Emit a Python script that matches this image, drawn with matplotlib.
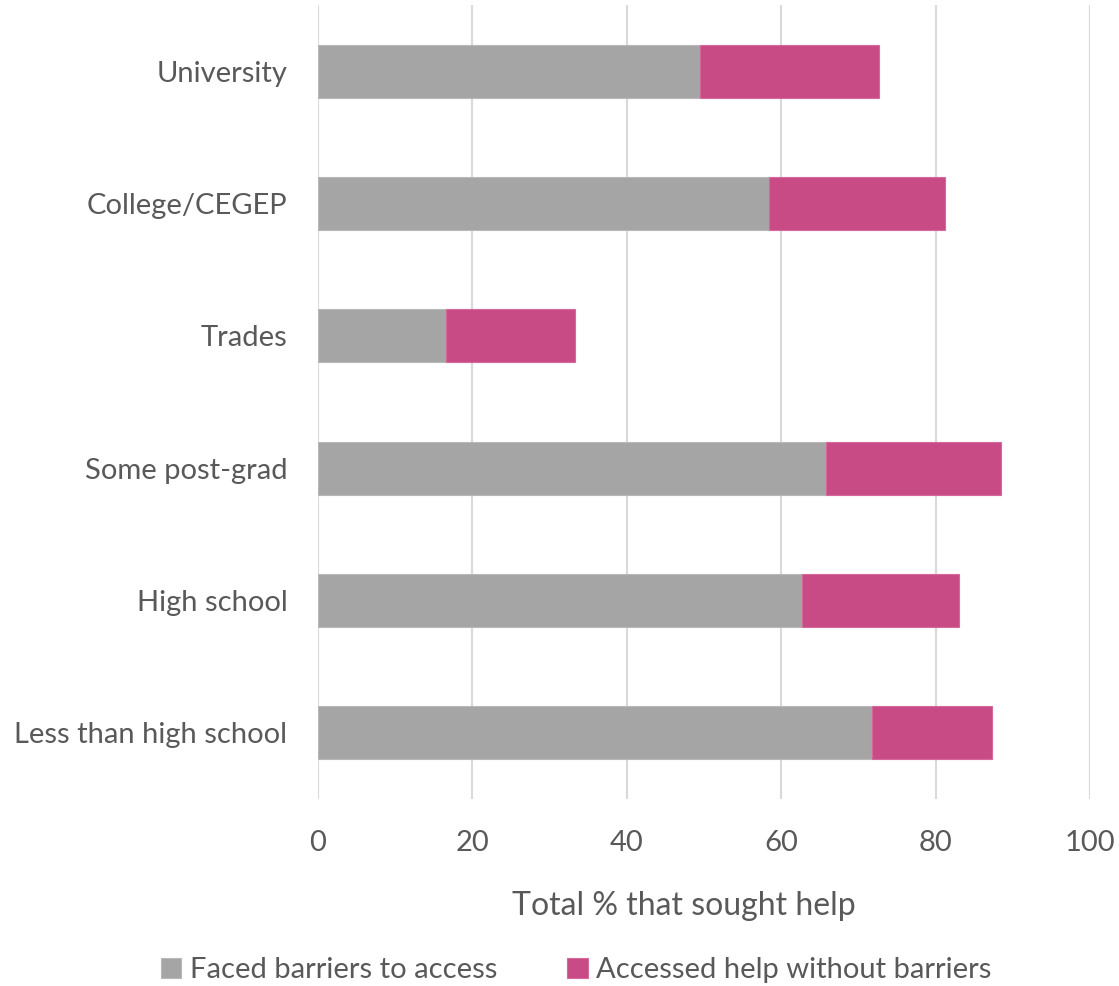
import matplotlib
matplotlib.use("Agg")
import matplotlib.pyplot as plt

categories = ["Less than high school", "High school", "Some post-grad",
              "Trades", "College/CEGEP", "University"]
faced_barriers = [71.8, 62.7, 65.8, 16.6, 58.4, 49.5]
no_barriers = [15.5, 20.3, 22.7, 16.7, 22.8, 23.2]
x_ticks = [0, 20, 40, 60, 80, 100]

gray = "#A5A5A5"
pink = "#C94B86"
text_color = "#595959"

plt.rcParams["font.family"] = ["Lato", "DejaVu Sans"]

fig = plt.figure(figsize=(11.19, 9.86), dpi=100)
ax = fig.add_axes([0.2842, 0.1897, 0.6899, 0.8052])

y = range(len(categories))
ax.barh(y, faced_barriers, height=0.4, color=gray, edgecolor="#B8B8B8",
        linewidth=0.8, label="Faced barriers to access", zorder=3)
ax.barh(y, no_barriers, left=faced_barriers, height=0.4, color=pink,
        edgecolor="#D46A9B", linewidth=0.8,
        label="Accessed help without barriers", zorder=3)

ax.set_xlim(0, 100)
ax.set_ylim(-0.5, len(categories) - 0.5)
ax.set_xticks(x_ticks)
ax.set_yticks(list(y))
ax.set_yticklabels(categories)
ax.tick_params(axis="both", length=0, labelsize=21, colors=text_color)
ax.tick_params(axis="x", pad=22)
ax.tick_params(axis="y", pad=22)
ax.grid(axis="x", color="#D9D9D9", linewidth=1.5, zorder=0)
for s in ax.spines.values():
    s.set_visible(False)

ax.set_xlabel("Total % that sought help", fontsize=23, color=text_color)
ax.xaxis.set_label_coords(0.474, -0.116)

handles, labels = ax.get_legend_handles_labels()
fig.legend(handles, labels, loc="center", bbox_to_anchor=(0.515, 0.016),
           ncol=2, frameon=False, fontsize=21, labelcolor=text_color,
           handlelength=0.7, handleheight=0.7, handletextpad=0.3,
           columnspacing=2.4)

fig.savefig("out.png", dpi=100)
